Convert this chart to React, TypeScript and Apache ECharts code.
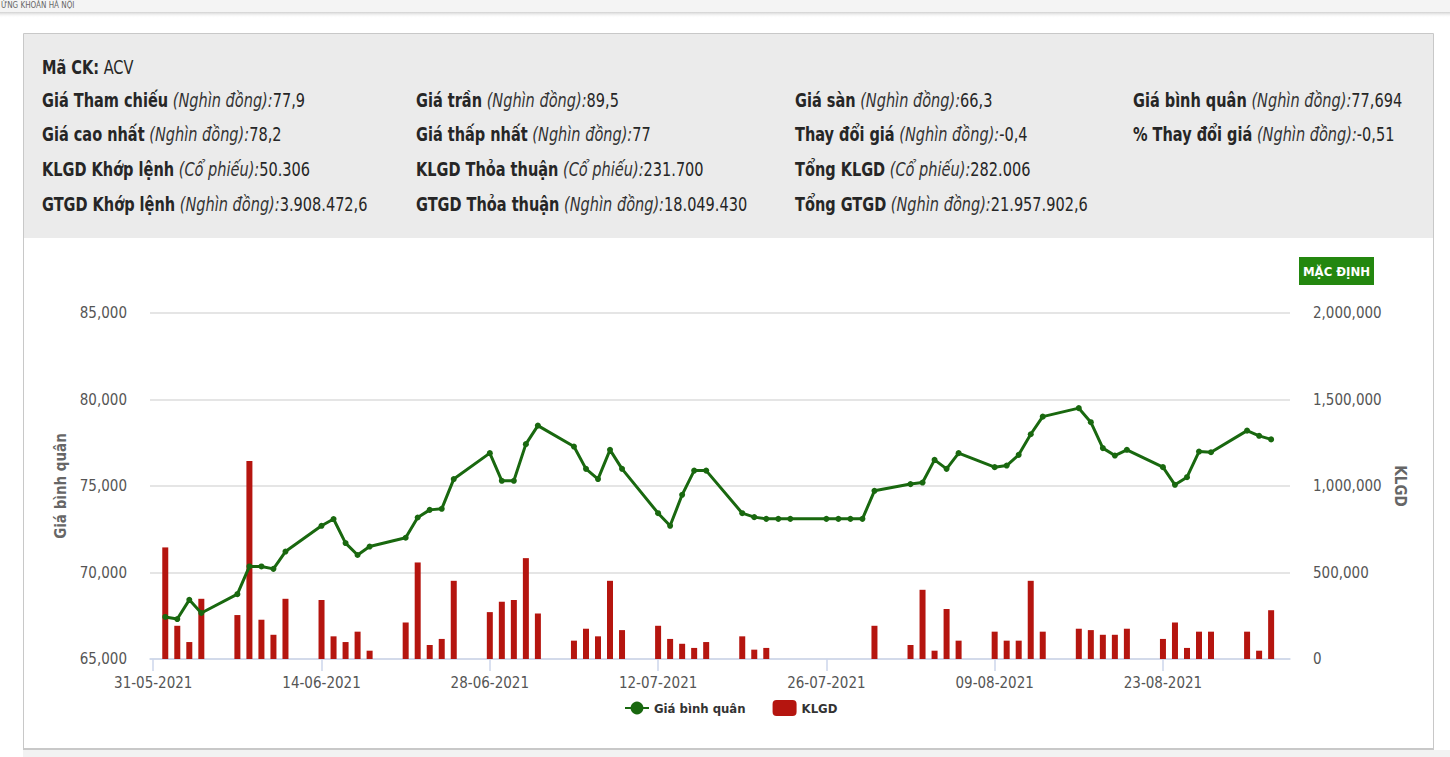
import React, { useEffect, useRef } from "react";
import * as echarts from "echarts";

const FONT =
  '"Liberation Sans Narrow", "DejaVu Sans Condensed", "Roboto Condensed", "Arial Narrow", Roboto, sans-serif';

// ---------- DATA ----------
const tradingDates = [
  "2021-06-01", "2021-06-02", "2021-06-03", "2021-06-04", "2021-06-07", "2021-06-08", "2021-06-09", "2021-06-10",
  "2021-06-11", "2021-06-14", "2021-06-15", "2021-06-16", "2021-06-17", "2021-06-18", "2021-06-21", "2021-06-22",
  "2021-06-23", "2021-06-24", "2021-06-25", "2021-06-28", "2021-06-29", "2021-06-30",
  "2021-07-01", "2021-07-02", "2021-07-05", "2021-07-06", "2021-07-07", "2021-07-08", "2021-07-09", "2021-07-12",
  "2021-07-13", "2021-07-14", "2021-07-15", "2021-07-16", "2021-07-19", "2021-07-20", "2021-07-21", "2021-07-22",
  "2021-07-23", "2021-07-26", "2021-07-27", "2021-07-28", "2021-07-29", "2021-07-30",
  "2021-08-02", "2021-08-03", "2021-08-04", "2021-08-05", "2021-08-06", "2021-08-09", "2021-08-10", "2021-08-11",
  "2021-08-12", "2021-08-13", "2021-08-16", "2021-08-17", "2021-08-18", "2021-08-19", "2021-08-20", "2021-08-23",
  "2021-08-24", "2021-08-25", "2021-08-26", "2021-08-27", "2021-08-30", "2021-08-31",
  "2021-09-01",
];

const avgPrice = [
  67430, 67310, 68420, 67660, 68750, 70350, 70350, 70210, 71210, 72700, 73090, 71700, 71010, 71500, 72010, 73180,
  73620, 73680, 75400, 76900, 75300, 75300,
  77420, 78490, 77280, 75990, 75400, 77090, 75990, 73430, 72700, 74490, 75890, 75890, 73430, 73200, 73100, 73100,
  73100, 73100, 73100, 73100, 73100, 74720,
  75110, 75200, 76510, 75990, 76900, 76090, 76180, 76800, 77990, 79010, 79500, 78690, 77190, 76760, 77090, 76090,
  75070, 75510, 76990, 76950, 78200, 77900,
  77694,
];

const volume = [
  645000, 192000, 98000, 348000, 254000, 1145000, 227000, 140000, 348000, 341000, 131000, 98000, 158000, 48000,
  211000, 558000, 81000, 116000, 452000, 271000, 331000, 341000,
  583000, 263000, 106000, 175000, 131000, 452000, 167000, 192000, 116000, 88000, 64000, 98000, 131000, 54000,
  64000, 0, 0, 0, 0, 0, 0, 192000,
  81000, 400000, 48000, 289000, 106000, 158000, 106000, 106000, 452000, 158000, 175000, 167000, 140000, 140000,
  175000, 116000, 211000, 64000, 158000, 158000, 158000, 48000,
  282006,
];

const xTickDates = ["2021-05-31", "2021-06-14", "2021-06-28", "2021-07-12", "2021-07-26", "2021-08-09", "2021-08-23"];

const seriesNames = ["Giá bình quân", "KLGD"];

// info panel: [bold label, italic unit, value]
const infoCol1 = [
  ["Giá Tham chiếu", "(Nghìn đồng):", "77,9"],
  ["Giá cao nhất", "(Nghìn đồng):", "78,2"],
  ["KLGD Khớp lệnh", "(Cổ phiếu):", "50.306"],
  ["GTGD Khớp lệnh", "(Nghìn đồng):", "3.908.472,6"],
];
const infoCol2 = [
  ["Giá trần", "(Nghìn đồng):", "89,5"],
  ["Giá thấp nhất", "(Nghìn đồng):", "77"],
  ["KLGD Thỏa thuận", "(Cổ phiếu):", "231.700"],
  ["GTGD Thỏa thuận", "(Nghìn đồng):", "18.049.430"],
];
const infoCol3 = [
  ["Giá sàn", "(Nghìn đồng):", "66,3"],
  ["Thay đổi giá", "(Nghìn đồng):", "-0,4"],
  ["Tổng KLGD", "(Cổ phiếu):", "282.006"],
  ["Tổng GTGD", "(Nghìn đồng):", "21.957.902,6"],
];
const infoCol4 = [
  ["Giá bình quân", "(Nghìn đồng):", "77,694"],
  ["% Thay đổi giá", "(Nghìn đồng):", "-0,51"],
];
const stockCode = "ACV";

// ---------- helpers ----------
const DAY = 86400000;
const ts = (s: string) => {
  const [y, m, d] = s.split("-").map(Number);
  return Date.UTC(y, m - 1, d);
};
const START = ts(xTickDates[0]);
const dayIdx = (s: string) => Math.round((ts(s) - START) / DAY);
const pad = (n: number) => (n < 10 ? "0" + n : "" + n);
const fmtDay = (v: number) => {
  const d = new Date(START + Math.round(v) * DAY);
  return pad(d.getUTCDate()) + "-" + pad(d.getUTCMonth() + 1) + "-" + d.getUTCFullYear();
};
const fmtNum = (v: number) => Math.round(v).toLocaleString("en-US");

export default function App() {
  const ref = useRef<HTMLDivElement>(null);

  useEffect(() => {
    if (!ref.current) return;
    const chart = echarts.init(ref.current, undefined, { renderer: "svg" });

    const priceData = tradingDates.map((d, i) => [dayIdx(d), avgPrice[i]]);
    const volData = tradingDates.map((d, i) => [dayIdx(d), volume[i]]);
    const tickVals = xTickDates.map(dayIdx);

    const FS = 19;
    const SX = 0.85;
    const rich = {
      b: { fontFamily: FONT, fontSize: FS, fontWeight: "bold", fill: "#262626" },
      i: { fontFamily: FONT, fontSize: FS, fontStyle: "italic", fill: "#333333" },
      n: { fontFamily: FONT, fontSize: FS, fill: "#262626" },
    };
    const colX = [42, 416, 795, 1133];
    const rowY = [101, 135, 170, 205];
    const infoTexts: any[] = [];
    [infoCol1, infoCol2, infoCol3, infoCol4].forEach((col, ci) => {
      col.forEach((row, ri) => {
        infoTexts.push({
          type: "text",
          x: colX[ci],
          y: rowY[ri],
          scaleX: SX,
          z: 5,
          style: {
            text: `{b|${row[0]}} {i|${row[1]}}{n|${row[2]}}`,
            rich,
            verticalAlign: "middle",
            fontFamily: FONT,
            fontSize: FS,
          },
        });
      });
    });

    const option: any = {
      animation: false,
      textStyle: { fontFamily: FONT },
      graphic: [
        { type: "rect", shape: { x: 0, y: 0, width: 1450, height: 12 }, style: { fill: "#f4f4f4" }, z: 0 },
        {
          type: "rect",
          shape: { x: 0, y: 12, width: 1450, height: 6 },
          style: {
            fill: new echarts.graphic.LinearGradient(0, 0, 0, 1, [
              { offset: 0, color: "#d0d0d0" },
              { offset: 1, color: "rgba(255,255,255,0)" },
            ]),
          },
          z: 0,
        },
        {
          type: "text",
          x: 1,
          y: 5,
          z: 1,
          style: { text: "ỨNG KHOÁN HÀ NỘI", fontFamily: FONT, fontSize: 8, fill: "#666", verticalAlign: "middle" },
        },
        { type: "rect", shape: { x: 24, y: 34, width: 1409, height: 204 }, style: { fill: "#ebebeb" }, z: 0 },
        {
          type: "rect",
          shape: { x: 23.5, y: 33.5, width: 1410, height: 716 },
          style: { fill: "none", stroke: "#c8c8c8", lineWidth: 1 },
          z: 1,
        },
        { type: "rect", shape: { x: 23, y: 748, width: 1411, height: 2 }, style: { fill: "#c8c8c8" }, z: 1 },
        { type: "rect", shape: { x: 23, y: 750, width: 1427, height: 7 }, style: { fill: "#f2f2f2" }, z: 0 },
        {
          type: "text",
          x: 42,
          y: 68,
          scaleX: SX,
          z: 5,
          style: {
            text: `{b|Mã CK:} {n|${stockCode}}`,
            rich,
            verticalAlign: "middle",
            fontFamily: FONT,
            fontSize: FS,
          },
        },
        ...infoTexts,
        { type: "rect", shape: { x: 1299, y: 257, width: 75, height: 28 }, style: { fill: "#23870f" }, z: 5 },
        {
          type: "text",
          x: 1336.5,
          y: 271,
          z: 6,
          style: {
            text: "MẶC ĐỊNH",
            fontFamily: FONT,
            fontSize: 13,
            fontWeight: "bold",
            fill: "#ffffff",
            align: "center",
            verticalAlign: "middle",
          },
        },
      ],
      legend: {
        left: 624,
        top: 700,
        padding: 0,
        itemWidth: 24,
        itemHeight: 16,
        itemGap: 27,
        data: seriesNames,
        textStyle: { fontFamily: FONT, fontSize: 13, fontWeight: "bold", color: "#333" },
      },
      grid: { left: 150, right: 160, top: 313, bottom: 98, containLabel: false },
      xAxis: {
        type: "value",
        min: -0.27,
        max: 94.57,
        axisLine: { lineStyle: { color: "#ccd6eb", width: 1.5 } },
        axisTick: { show: true, length: 12, customValues: tickVals, lineStyle: { color: "#ccd6eb", width: 1.5 } },
        axisLabel: {
          customValues: tickVals,
          formatter: (v: number) => fmtDay(v),
          fontFamily: FONT,
          fontSize: 15,
          color: "#555",
          margin: 16,
        },
        splitLine: { show: false },
      },
      yAxis: [
        {
          type: "value",
          min: 65000,
          max: 85000,
          interval: 5000,
          name: seriesNames[0],
          nameLocation: "middle",
          nameGap: 76,
          nameRotate: 90,
          nameTextStyle: { fontFamily: FONT, fontSize: 15, fontWeight: "bold", color: "#666" },
          axisLine: { show: false },
          axisTick: { show: false },
          axisLabel: { formatter: fmtNum, fontFamily: FONT, fontSize: 15, color: "#555", margin: 23 },
          splitLine: { lineStyle: { color: "#dcdcdc", width: 1.5 } },
        },
        {
          type: "value",
          min: 0,
          max: 2000000,
          interval: 500000,
          position: "right",
          name: seriesNames[1],
          nameLocation: "middle",
          nameGap: 94,
          nameRotate: -90,
          nameTextStyle: { fontFamily: FONT, fontSize: 15, fontWeight: "bold", color: "#666" },
          axisLine: { show: false },
          axisTick: { show: false },
          axisLabel: { formatter: fmtNum, fontFamily: FONT, fontSize: 15, color: "#555", margin: 23 },
          splitLine: { show: false },
        },
      ],
      series: [
        {
          name: seriesNames[1],
          type: "bar",
          yAxisIndex: 1,
          data: volData,
          barWidth: 6,
          itemStyle: { color: "#b5150f" },
          z: 2,
        },
        {
          name: seriesNames[0],
          type: "line",
          yAxisIndex: 0,
          data: priceData,
          symbol: "circle",
          symbolSize: 6,
          showSymbol: true,
          lineStyle: { color: "#19680f", width: 3 },
          itemStyle: { color: "#19680f" },
          z: 3,
        },
      ],
    };
    chart.setOption(option);
    return () => chart.dispose();
  }, []);

  return (
    <div
      ref={ref}
      style={{ position: "absolute", left: 0, top: 0, width: 1450, height: 757, background: "#ffffff" }}
    />
  );
}
